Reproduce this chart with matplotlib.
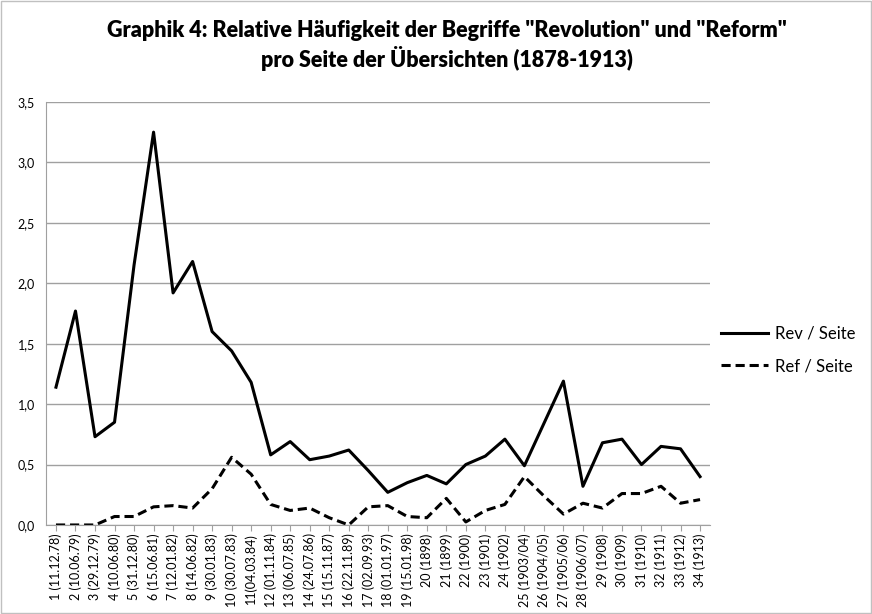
import numpy as np
import matplotlib.pyplot as plt
from matplotlib.ticker import FuncFormatter

plt.rcParams['font.family'] = ['Lato', 'DejaVu Sans']

# --- Data ---
labels = ["1 (11.12.78)", "2 (10.06.79)", "3 (29.12.79)", "4 (10.06.80)", "5 (31.12.80)",
          "6 (15.06.81)", "7 (12.01.82)", "8 (14.06.82)", "9 (30.01.83)", "10 (30.07.83)",
          "11(04.03.84)", "12 (01.11.84)", "13 (06.07.85)", "14 (24.07.86)", "15 (15.11.87)",
          "16 (22.11.89)", "17 (02.09.93)", "18 (01.01.97)", "19 (15.01.98)", "20 (1898)",
          "21 (1899)", "22 (1900)", "23 (1901)", "24 (1902)", "25 (1903/04)", "26 (1904/05)",
          "27 (1905/06)", "28 (1906/07)", "29 (1908)", "30 (1909)", "31 (1910)", "32 (1911)",
          "33 (1912)", "34 (1913)"]
rev = [1.14, 1.77, 0.73, 0.85, 2.15, 3.25, 1.92, 2.18, 1.60, 1.44, 1.18, 0.58, 0.69, 0.54,
       0.57, 0.62, 0.45, 0.27, 0.35, 0.41, 0.34, 0.50, 0.57, 0.71, 0.49, 0.84, 1.19, 0.32,
       0.68, 0.71, 0.50, 0.65, 0.63, 0.40]
ref = [0.0, 0.0, 0.0, 0.07, 0.07, 0.15, 0.16, 0.14, 0.30, 0.56, 0.42, 0.17, 0.12, 0.14,
       0.06, 0.0, 0.15, 0.16, 0.07, 0.06, 0.22, 0.025, 0.12, 0.17, 0.40, 0.24, 0.09, 0.18,
       0.14, 0.26, 0.26, 0.32, 0.18, 0.21]

fig = plt.figure(figsize=(8.72, 6.14), dpi=100)
ax = fig.add_axes([0.053, 0.145, 0.761, 0.689])

x = np.arange(len(labels))
ax.plot(x, rev, color='black', lw=2.2, label='Rev / Seite')
ax.plot(x, ref, color='black', lw=2.2, ls=(0, (3, 1.6)), label='Ref / Seite')

ax.set_xlim(-0.5, len(labels) - 0.5)
ax.set_ylim(0, 3.5)
ax.set_yticks(np.arange(0, 3.51, 0.5))
ax.yaxis.set_major_formatter(FuncFormatter(lambda v, p: f"{v:.1f}".replace('.', ',')))
ax.set_xticks(x)
ax.set_xticklabels(labels, rotation=90, fontsize=9)
ax.tick_params(axis='y', labelsize=9, length=0, pad=8)
ax.tick_params(axis='x', length=4, color='#a0a0a0', pad=2)
ax.grid(axis='y', color='#a0a0a0', lw=1)
ax.set_axisbelow(True)
for s in ['top', 'right']:
    ax.spines[s].set_visible(False)
ax.spines['left'].set_color('#a0a0a0')
ax.spines['bottom'].set_color('#a0a0a0')

fig.suptitle('Graphik 4: Relative Häufigkeit der Begriffe "Revolution" und "Reform"\n'
             'pro Seite der Übersichten (1878-1913)',
             x=0.512, y=0.968, fontsize=15.5, fontweight='heavy', linespacing=1.25)

fig.legend(loc='center left', bbox_to_anchor=(0.81, 0.43), frameon=False,
           fontsize=12, handlelength=2.8, labelspacing=1.0, handletextpad=0.4)

fig.patches.append(plt.Rectangle((0.001, 0.001), 0.998, 0.998, transform=fig.transFigure,
                                 fill=False, edgecolor='#c0c0c0', lw=1))

fig.savefig('out.png', dpi=100)
